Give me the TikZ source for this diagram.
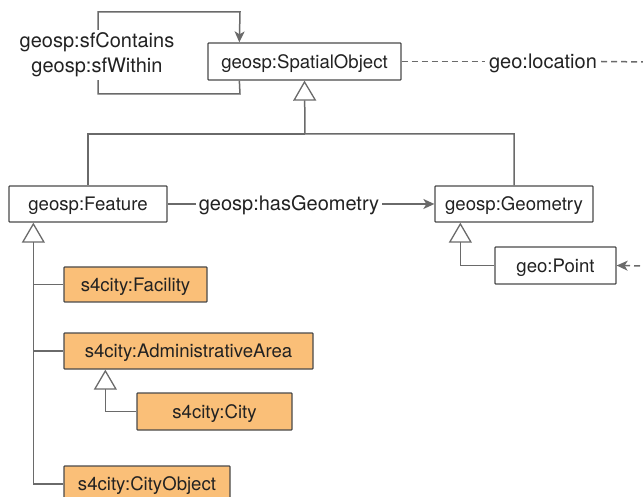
\documentclass[tikz,border=0pt]{standalone}
\usepackage{fontspec}
\setmainfont{TeX Gyre Heros}
\usetikzlibrary{arrows.meta}
\definecolor{lc}{HTML}{6A6A6A}
\definecolor{bc}{HTML}{4A4A4A}
\definecolor{tc}{HTML}{222222}
\definecolor{orfill}{HTML}{FABF78}
\tikzset{
  cls/.style={draw=bc, line width=1.3pt, fill=white, inner sep=0pt, text=tc,
    font=\fontsize{18.6}{22}\selectfont, rounded corners=0.8pt,
    text height=13.4pt, text depth=0pt},
  ocls/.style={cls, fill=orfill},
  gen/.style={draw=lc, line width=1.5pt, -{Triangle[open, length=20pt, width=23pt, line width=1.3pt]}},
  assoc/.style={draw=lc, line width=1.5pt},
  arr/.style={assoc, -{Stealth[length=11pt, width=10pt, inset=3pt]}},
  dsh/.style={assoc, dash pattern=on 6pt off 4pt},
  elab/.style={fill=white, inner sep=3pt, text=tc, font=\fontsize{20}{25}\selectfont, align=center}
}
\begin{document}
\begin{tikzpicture}[x=1pt, y=-1pt]
\useasboundingbox (0,0) rectangle (643,497);
\clip (0,0) rectangle (643,497);
% classes
\node[cls, minimum width=193pt, minimum height=37pt] (so) at (304.5,61.5) {geosp:SpatialObject};
\node[cls, minimum width=158pt, minimum height=36pt] (feat) at (88,204) {geosp:Feature};
\node[cls, minimum width=158pt, minimum height=36pt] (geom) at (514,204) {geosp:Geometry};
\node[cls, minimum width=121pt, minimum height=37pt] (point) at (555.5,265.5) {geo:Point};
\node[ocls, minimum width=143pt, minimum height=35pt] (fac) at (135.5,284.5) {s4city:Facility};
\node[ocls, minimum width=249pt, minimum height=36pt] (adm) at (188.5,351) {s4city:AdministrativeArea};
\node[ocls, minimum width=155pt, minimum height=37pt] (city) at (214.5,411.5) {s4city:City};
\node[ocls, minimum width=166pt, minimum height=36pt] (cobj) at (147,484) {s4city:CityObject};
% helper coordinates
\coordinate (j1) at (305,134);
\coordinate (ft) at ([xshift=25pt]feat.south west);
\coordinate (at) at ([xshift=42pt]adm.south west);
\coordinate (gt) at ([xshift=26pt]geom.south west);
\coordinate (lpA) at ([xshift=32pt]so.south west);
\coordinate (lpB) at ([xshift=32pt]so.north west);
\coordinate (l1) at (240,94);
\coordinate (l2) at (98,94);
\coordinate (l3) at (98,12);
\coordinate (l4) at (240,12);
\coordinate (locEnd) at (650,62);
\coordinate (ptSrc) at (650,266);
% generalizations
\draw[assoc] (feat.north) |- (j1);
\draw[gen] (geom.north) |- (j1) -- (so.south);
\draw[assoc] (fac.west) -- (fac.west -| ft);
\draw[assoc] (adm.west) -- (adm.west -| ft);
\draw[gen] (cobj.west) -| (ft);
\draw[gen] (city.west) -| (at);
\draw[gen] (point.west) -| (gt);
% self loop
\draw[arr] (lpA) -- (l1) -- (l2) -- (l3) -- (l4) -- (lpB);
\node[elab] (loop) at (97,55) {geosp:sfContains\\geosp:sfWithin};
% hasGeometry
\node[elab, inner sep=3pt] (hg) at (289,205) {geosp:hasGeometry};
\draw[assoc] (feat.east) -- (feat.east -| hg.west);
\draw[arr] (geom.west -| hg.east) -- (geom.west);
% geo:location
\node[elab, inner sep=4pt] (loc) at (543,63) {geo:location};
\draw[dsh] (so.east) -- (so.east -| loc.west);
\draw[dsh] (so.east -| loc.east) -- (locEnd);
% dashed arrow into point
\draw[dsh, -{Stealth[length=11pt, width=10pt, inset=3pt]}] (ptSrc) -- (point.east);
\end{tikzpicture}
\end{document}
